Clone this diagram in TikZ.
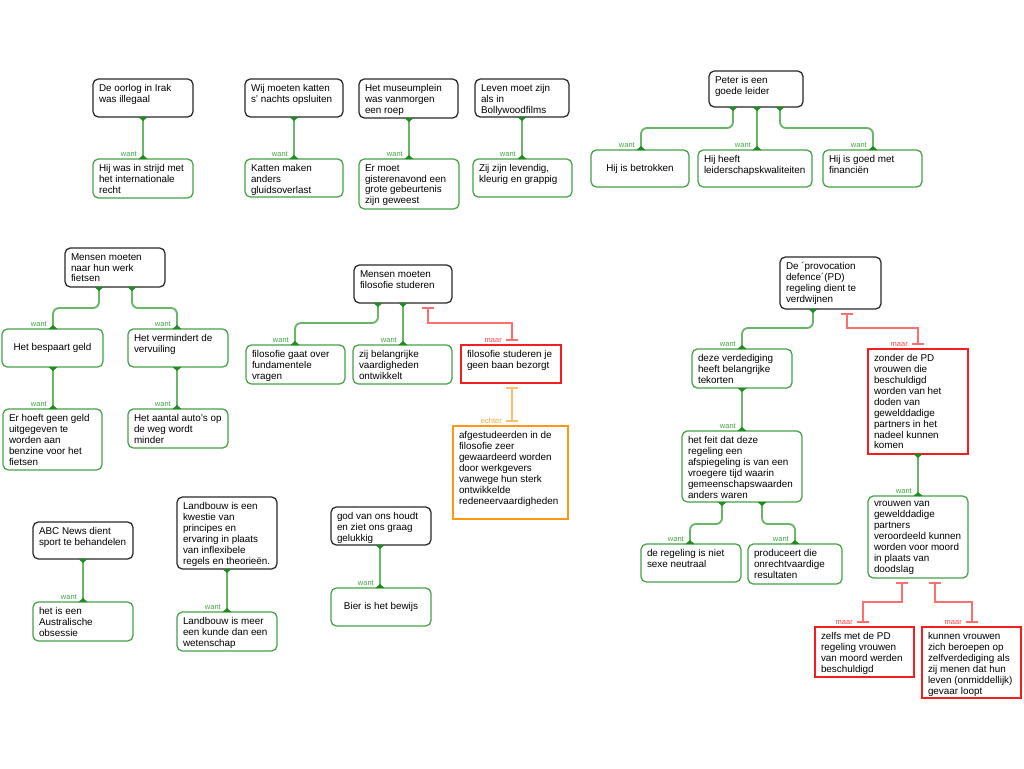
\documentclass[tikz,border=0pt]{standalone}
\usepackage{fontspec}
\setmainfont{Liberation Sans}
\usetikzlibrary{arrows.meta}
\definecolor{dk}{RGB}{40,40,40}
\definecolor{gb}{RGB}{70,160,70}
\definecolor{gc}{RGB}{105,182,105}
\definecolor{gf}{RGB}{30,140,30}
\definecolor{gt}{RGB}{70,165,70}
\definecolor{rb}{RGB}{245,30,30}
\definecolor{rcl}{RGB}{255,110,110}
\definecolor{rt}{RGB}{255,70,70}
\definecolor{ob}{RGB}{255,150,20}
\definecolor{ocl}{RGB}{255,190,110}
\definecolor{ot}{RGB}{255,165,50}
\newcommand\mkbox[7]{%
  \pgfmathsetmacro\bxw{(#5-#3)*0.75}%
  \pgfmathsetmacro\bxh{(#6-#4)*0.75}%
  \node[#2, minimum width=\bxw pt, minimum height=\bxh pt] (#1) at (#3,#4)
    {\parbox[c][\dimexpr\bxh pt-8pt\relax][t]{\dimexpr\bxw pt-9pt\relax}{\raggedright #7}};%
}
\newcommand\mkboxc[7]{%
  \pgfmathsetmacro\bxw{(#5-#3)*0.75}%
  \pgfmathsetmacro\bxh{(#6-#4)*0.75}%
  \node[#2, minimum width=\bxw pt, minimum height=\bxh pt] (#1) at (#3,#4)
    {\parbox[c][\dimexpr\bxh pt-8pt\relax][c]{\dimexpr\bxw pt-9pt\relax}{\centering #7}};%
}
% vertical green link: x, parent, child
\newcommand\vlink[3]{%
  \draw[gl] (#1,0 |- #2.south) -- (#1,0 |- #3.north);
  \node[wl] (w-#3) at (#1,0 |- #3.north) {want};%
}
% bent green link: px, ymid, cx, parent, child
\newcommand\blink[5]{%
  \draw[gl] (#1,0 |- #4.south) -- (#1,#2) -- (#3,#2) -- (#3,0 |- #5.north);
  \node[wl] (w-#5) at (#3,0 |- #5.north) {want};%
}
% red link
\newcommand\rlink[5]{%
  \draw[rl] (#1,0 |- #4.south) -- (#1,#2) -- (#3,#2) -- (#3,0 |- #5.north);
  \node[ml] (m-#5) at (#3,0 |- #5.north) {maar};%
}
\begin{document}
\begin{tikzpicture}[x=0.75pt,y=-0.75pt,
  box/.style={anchor=north west, inner sep=0pt, outer sep=0pt, line width=0.95pt,
    font=\fontsize{7.4}{8.2}\selectfont, text=black, fill=white},
  claim/.style={box, draw=dk, rounded corners=4pt},
  pro/.style={box, draw=gb, rounded corners=4pt},
  con/.style={box, draw=rb},
  reb/.style={box, draw=ob},
  gl/.style={draw=gc, line width=1.4pt, rounded corners=4.5pt,
    {Triangle[reversed,width=6.5pt,length=3pt,color=gf]}-{Triangle[reversed,width=6.5pt,length=3pt,color=gf]}},
  rl/.style={draw=rcl, line width=1.3pt, shorten <=3pt, shorten >=3pt,
    {Bar[width=9pt,line width=1.5pt]}-{Bar[width=9pt,line width=1.5pt]}},
  ol/.style={draw=ocl, line width=1.3pt, shorten <=3pt, shorten >=3pt,
    {Bar[width=9pt,line width=1.5pt]}-{Bar[width=9pt,line width=1.5pt]}},
  lab/.style={inner sep=0pt, anchor=base east, font=\fontsize{5.6}{6}\selectfont},
  wl/.style={lab, text=gt, xshift=-4.5pt, yshift=1.6pt},
  ml/.style={lab, text=rt, xshift=-7.5pt, yshift=2pt},
  el/.style={lab, text=ot, xshift=-7.5pt, yshift=1.6pt}]
\useasboundingbox (0,0) rectangle (1024,768);
\fill[white] (0,0) rectangle (1024,768);

% ---- row 1
\mkbox{A}{claim}{93}{79}{193}{117}{De oorlog in Irak\\was illegaal}
\mkbox{Ac}{pro}{93}{159}{193}{198}{Hij was in strijd met\\het internationale\\recht}
\mkbox{B}{claim}{245}{79}{343}{117}{Wij moeten katten\\s' nachts opsluiten}
\mkbox{Bc}{pro}{245}{159}{343}{197}{Katten maken\\anders\\gluidsoverlast}
\mkbox{C}{claim}{359}{79}{458}{118}{Het museumplein\\was vanmorgen\\een roep}
\mkbox{Cc}{pro}{359}{159}{459}{209}{Er moet\\gisterenavond een\\grote gebeurtenis\\zijn geweest}
\mkbox{D}{claim}{475}{79}{569}{117}{Leven moet zijn\\als in\\Bollywoodfilms}
\mkbox{Dc}{pro}{473}{159}{572}{197}{Zij zijn levendig,\\kleurig en grappig}
\mkbox{E}{claim}{709}{71}{803}{107}{Peter is een\\goede leider}
\mkboxc{E1}{pro}{591}{150}{689}{187}{Hij is betrokken}
\mkbox{E2}{pro}{698}{150}{812}{187}{Hij heeft\\leiderschapskwaliteiten}
\mkbox{E3}{pro}{823}{150}{922}{187}{Hij is goed met\\financiën}

\vlink{143}{A}{Ac}
\vlink{294}{B}{Bc}
\vlink{409}{C}{Cc}
\vlink{522}{D}{Dc}
\blink{733}{128}{641}{E}{E1}
\vlink{757}{E}{E2}
\blink{780}{128}{873}{E}{E3}

% ---- row 2 left
\mkbox{F}{claim}{65}{248}{165}{287}{Mensen moeten\\naar hun werk\\fietsen}
\mkboxc{F1}{pro}{2}{329}{103}{367}{Het bespaart geld}
\mkbox{F2}{pro}{128}{329}{228}{367}{Het vermindert de\\vervuiling}
\mkbox{F11}{pro}{3}{409}{102}{470}{Er hoeft geen geld\\uitgegeven te\\worden aan\\benzine voor het\\fietsen}
\mkbox{F21}{pro}{128}{409}{228}{448}{Het aantal auto's op\\de weg wordt\\minder}
\blink{99}{308}{53}{F}{F1}
\blink{132}{308}{177}{F}{F2}
\vlink{53}{F1}{F11}
\vlink{177}{F2}{F21}

% ---- filosofie
\mkbox{G}{claim}{354}{265}{452}{303}{Mensen moeten\\filosofie studeren}
\mkbox{G1}{pro}{246}{345}{345}{384}{filosofie gaat over\\fundamentele\\vragen}
\mkbox{G2}{pro}{353}{345}{452}{384}{zij belangrijke\\vaardigheden\\ontwikkelt}
\mkbox{G3}{con}{461}{345}{561}{383}{filosofie studeren je\\geen baan bezorgt}
\mkbox{G31}{reb}{453}{426}{568}{519}{afgestudeerden in de\\filosofie zeer\\gewaardeerd worden\\door werkgevers\\vanwege hun sterk\\ontwikkelde\\redeneervaardigheden}
\blink{378}{323}{295}{G}{G1}
\vlink{403}{G}{G2}
\rlink{428}{323}{512}{G}{G3}
\draw[ol] (512,0 |- G3.south) -- (512,0 |- G31.north);
\node[el] (e-G31) at (512,0 |- G31.north) {echter};

% ---- provocation defence
\mkbox{H}{claim}{780}{257}{881}{309}{De ´provocation\\defence´(PD)\\regeling dient te\\verdwijnen}
\mkbox{H1}{pro}{692}{349}{792}{388}{deze verdediging\\heeft belangrijke\\tekorten}
\mkbox{H11}{pro}{682}{431}{802}{502}{het feit dat deze\\regeling een\\afspiegeling is van een\\vroegere tijd waarin\\gemeenschapswaarden\\anders waren}
\mkbox{H111}{pro}{641}{544}{741}{582}{de regeling is niet\\sexe neutraal}
\mkbox{H112}{pro}{748}{544}{842}{584}{produceert die\\onrechtvaardige\\resultaten}
\mkbox{H2}{con}{868}{349}{968}{454}{zonder de PD\\vrouwen die\\beschuldigd\\worden van het\\doden van\\gewelddadige\\partners in het\\nadeel kunnen\\komen}
\mkbox{H21}{pro}{868}{496}{968}{578}{vrouwen van\\gewelddadige\\partners\\veroordeeld kunnen\\worden voor moord\\in plaats van\\doodslag}
\mkbox{H211}{con}{815}{627}{914}{677}{zelfs met de PD\\regeling vrouwen\\van moord werden\\beschuldigd}
\mkbox{H212}{con}{922}{627}{1021}{698}{kunnen vrouwen\\zich beroepen op\\zelfverdediging als\\zij menen dat hun\\leven (onmiddellijk)\\gevaar loopt}
\blink{813}{328}{742}{H}{H1}
\rlink{847}{328}{918}{H}{H2}
\vlink{742}{H1}{H11}
\blink{722}{524}{690}{H11}{H111}
\blink{762}{524}{795}{H11}{H112}
\vlink{918}{H2}{H21}
\rlink{902}{602}{863}{H21}{H211}
\rlink{935}{602}{972}{H21}{H212}

% ---- row 3
\mkbox{I}{claim}{33}{522}{133}{559}{ABC News dient\\sport te behandelen}
\mkbox{Ic}{pro}{33}{602}{133}{641}{het is een\\Australische\\obsessie}
\mkbox{J}{claim}{177}{497}{277}{569}{Landbouw is een\\kwestie van\\principes en\\ervaring in plaats\\van inflexibele\\regels en theorieën.}
\mkbox{Jc}{pro}{177}{612}{277}{651}{Landbouw is meer\\een kunde dan een\\wetenschap}
\mkbox{K}{claim}{331}{507}{431}{545}{god van ons houdt\\en ziet ons graag\\gelukkig}
\mkboxc{Kc}{pro}{331}{588}{431}{626}{Bier is het bewijs}
\vlink{83}{I}{Ic}
\vlink{227}{J}{Jc}
\vlink{380}{K}{Kc}
\end{tikzpicture}
\end{document}
